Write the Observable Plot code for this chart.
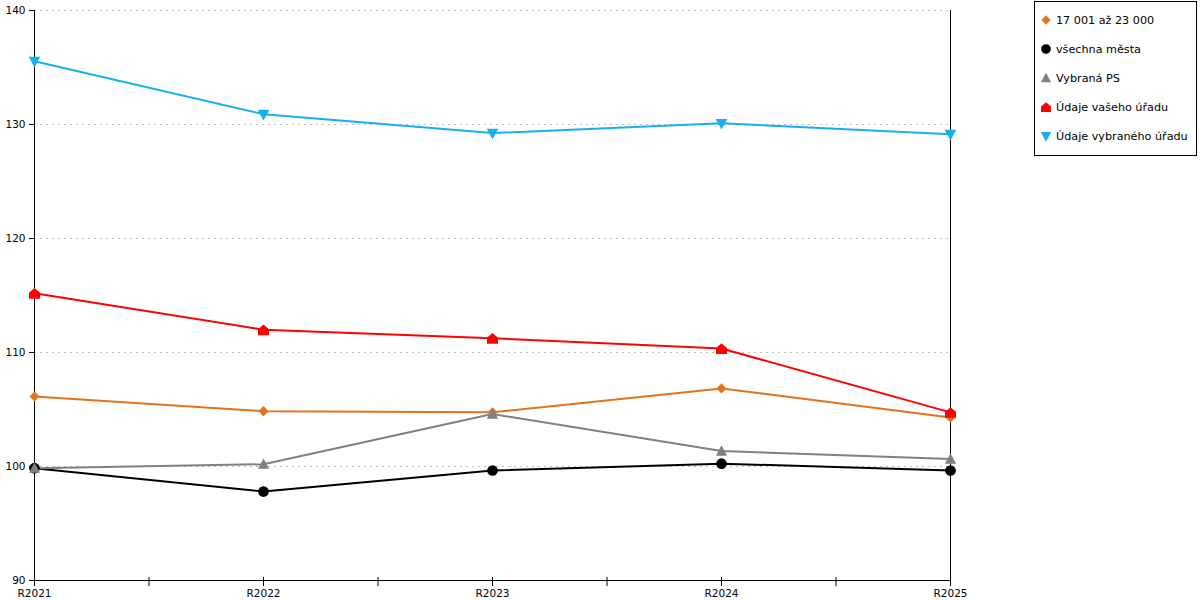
<!DOCTYPE html>
<html><head><meta charset="utf-8">
<script src="https://cdn.jsdelivr.net/npm/d3@7"></script>
<script src="https://cdn.jsdelivr.net/npm/@observablehq/plot@0.6"></script>
<style>
body{margin:0;background:#fff;font-family:"DejaVu Sans",sans-serif}
#wrap{position:relative;width:1200px;height:600px;overflow:hidden}
#legend{position:absolute;left:1034px;top:1px;width:163px;height:155px;border:1px solid #000;background:#fff;box-sizing:border-box}
.item{position:absolute;left:4px;height:16px;display:flex;align-items:center;font-size:11.2px;color:#000;white-space:nowrap}
.item svg{margin-right:3px}
</style></head><body><div id="wrap"></div>
<script>
const years = ["R2021","R2022","R2023","R2024","R2025"];
const seriesNames = ["17 001 až 23 000","všechna města","Vybraná PS","Údaje vašeho úřadu","Údaje vybraného úřadu"];
const seriesColors = ["#e3731c","#000000","#808080","#ff0000","#14b1ec"];
const valsOrange = [106.15,104.85,104.75,106.85,104.3];
const valsBlack = [99.85,97.8,99.65,100.25,99.65];
const valsGray = [99.85,100.2,104.6,101.35,100.65];
const valsRed = [115.2,112.0,111.25,110.35,104.75];
const valsBlue = [135.55,130.9,129.25,130.1,129.15];
const yTicks = [90,100,110,120,130,140];
const gridTicks = [100,110,120,130,140];

const allVals = [valsOrange,valsBlack,valsGray,valsRed,valsBlue];

// custom symbols (unit shapes scaled by r)
function mk(points){return {draw(ctx,size){const r=Math.sqrt(size/Math.PI)/5.5;ctx.moveTo(points[0][0]*r,points[0][1]*r);for(let i=1;i<points.length;i++)ctx.lineTo(points[i][0]*r,points[i][1]*r);ctx.closePath();}};}
const symDiamond = mk([[0,-5.2],[5,0],[0,5.2],[-5,0]]);
const symCircle = {draw(ctx,size){const r=Math.sqrt(size/Math.PI)*0.97;ctx.moveTo(r,0);ctx.arc(0,0,r,0,2*Math.PI);ctx.closePath();}};
const symTriUp = mk([[0,-5.8],[5.6,4.6],[-5.6,4.6]]);
const symHouse = mk([[-5.5,5.5],[5.5,5.5],[5.5,-0.5],[0,-5.2],[-5.5,-0.5]]);
const symTriDown = mk([[-5.8,-4.4],[5.8,-4.4],[0,6.2]]);
const symbols = [symDiamond,symCircle,symTriUp,symHouse,symTriDown];

const data = [];
seriesNames.forEach((s,k)=>allVals[k].forEach((v,i)=>data.push({series:s,i,v})));

const halfTicks = d3.range(0,4.01,0.5);

const plot = Plot.plot({
  width:1200,height:600,
  marginLeft:34,marginRight:250,marginTop:10,marginBottom:20,
  style:{fontFamily:"DejaVu Sans",fontSize:"10.5px",color:"#000",background:"#fff"},
  x:{type:"linear",domain:[0,4],axis:null},
  y:{domain:[90,140],axis:null},
  color:{domain:seriesNames,range:seriesColors},
  marks:[
    Plot.gridY(gridTicks,{stroke:"#c0c0c0",strokeOpacity:1,strokeDasharray:"2,4"}),
    Plot.axisY({ticks:yTicks,tickSize:5,tickPadding:4,label:null,anchor:"left"}),
    Plot.axisX({ticks:halfTicks,tickSize:9,dy:-3,fill:"none",label:null}),
    Plot.axisX({ticks:d3.range(0,5),tickSize:0,tickPadding:9,tickFormat:i=>years[i],label:null}),
    Plot.ruleY([90],{stroke:"#000"}),
    Plot.ruleX([0],{stroke:"#000"}),
    Plot.ruleX([4],{stroke:"#000"}),
    Plot.line(data,{x:"i",y:"v",z:"series",stroke:"series",strokeWidth:2}),
    ...seriesNames.map((s,k)=>Plot.dot(data.filter(d=>d.series===s),{x:"i",y:"v",fill:seriesColors[k],stroke:"none",r:5.5,symbol:symbols[k]}))
  ]
});
const wrap=document.getElementById("wrap");
wrap.appendChild(plot);

const legend=document.createElement("div");legend.id="legend";wrap.appendChild(legend);
const rowY=[10,39,68,97,126];
seriesNames.forEach((s,k)=>{
  const it=document.createElement("div");it.className="item";it.style.top=rowY[k]+"px";
  const svg=d3.create("svg").attr("width",14).attr("height",14);
  const size=Math.PI*5*5;
  const p=d3.path();symbols[k].draw(p,size);
  svg.append("path").attr("d",p.toString()).attr("transform","translate(7,7)").attr("fill",seriesColors[k]);
  it.appendChild(svg.node());
  const t=document.createElement("span");t.textContent=s;it.appendChild(t);
  legend.appendChild(it);
});
</script></body></html>
